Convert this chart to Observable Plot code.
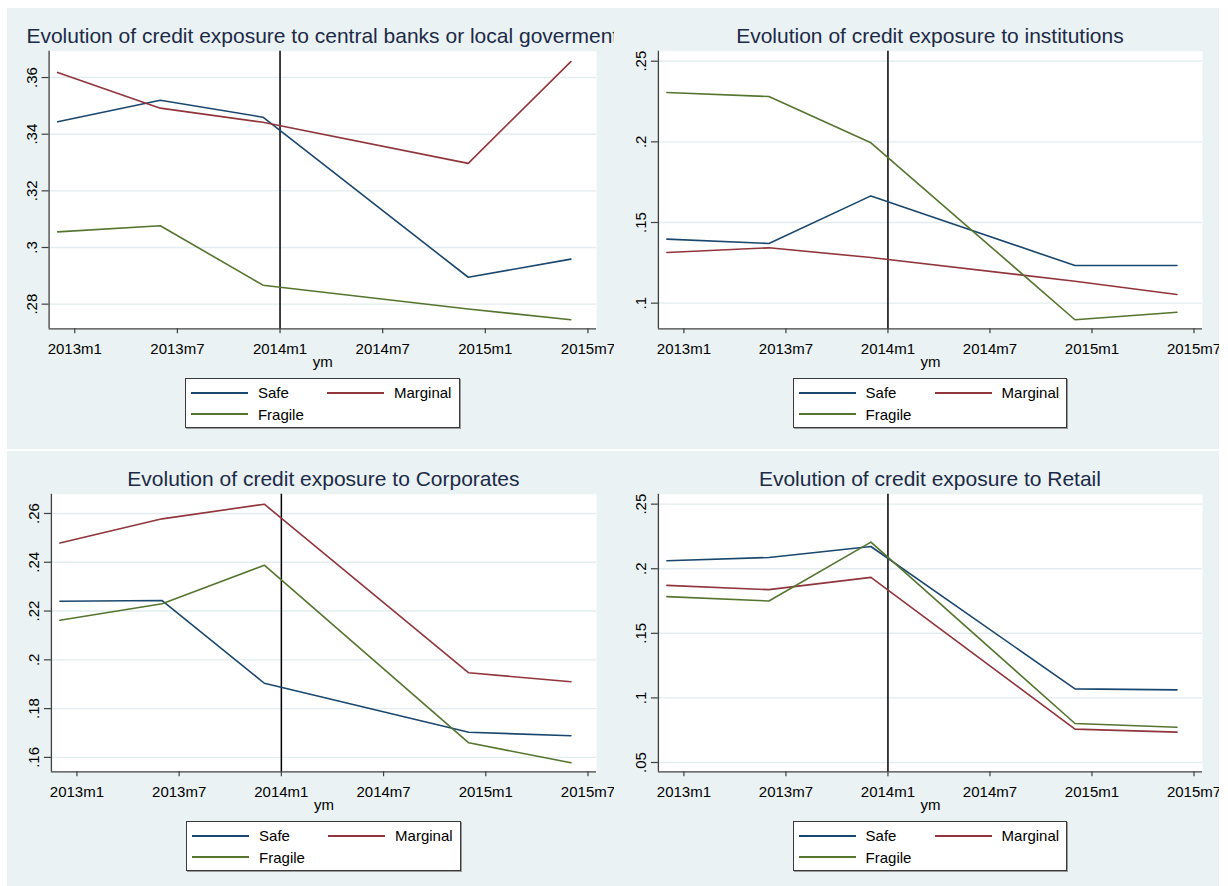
<!DOCTYPE html>
<html>
<head>
<meta charset="utf-8">
<script src="https://cdn.jsdelivr.net/npm/d3@7"></script>
<script src="https://cdn.jsdelivr.net/npm/@observablehq/plot@0.6"></script>
<style>
  html, body { margin: 0; padding: 0; background: #ffffff; }
  #root { position: relative; width: 1228px; height: 886px; overflow: hidden; font-family: "Liberation Sans", Arial, sans-serif; }
  .panel { position: absolute; background: #eaf2f3; overflow: hidden; }
  .panel svg { position: absolute; left: 0; top: 0; max-width: none; }
  .title { position: absolute; white-space: nowrap; font-size: 21px; line-height: 20px; color: #1c2a48; transform: translateX(-50%); }
  .legend { position: absolute; background: #ffffff; border: 1px solid #3a3a3a; box-sizing: border-box; box-shadow: 1px 1px 0 #9a9a9a; }
  .legend .sw { position: absolute; height: 1.8px; width: 57px; }
  .legend .lab { position: absolute; font-size: 15px; line-height: 15px; color: #000; white-space: nowrap; }
</style>
</head>
<body>
<div id="root"></div>
<script>
// ---------- data ----------
const series = ["Safe", "Marginal", "Fragile"];
const seriesColors = ["#1a476f", "#90353b", "#55752f"];
const months = ["2012m12", "2013m6", "2013m12", "2014m12", "2015m6"];
const xTickLabels = ["2013m1", "2013m7", "2014m1", "2014m7", "2015m1", "2015m7"];
const eventLine = ["2014m1"];
const xAxisLabel = "ym";

const titles = [
  "Evolution of credit exposure to central banks or local goverment",
  "Evolution of credit exposure to institutions",
  "Evolution of credit exposure to Corporates",
  "Evolution of credit exposure to Retail"
];

// central banks or local government
const cbSafe     = [0.3444, 0.3520, 0.3460, 0.2895, 0.2959];
const cbMarginal = [0.3618, 0.3492, 0.3442, 0.3297, 0.3656];
const cbFragile  = [0.3055, 0.3077, 0.2867, 0.2783, 0.2745];
const cbTicks = [0.28, 0.30, 0.32, 0.34, 0.36];

// institutions
const instSafe     = [0.1397, 0.1370, 0.1665, 0.1233, 0.1233];
const instMarginal = [0.1314, 0.1343, 0.1283, 0.1136, 0.1054];
const instFragile  = [0.2306, 0.2281, 0.1994, 0.0897, 0.0944];
const instTicks = [0.10, 0.15, 0.20, 0.25];

// corporates
const corpSafe     = [0.2240, 0.2243, 0.1904, 0.1703, 0.1689];
const corpMarginal = [0.2479, 0.2578, 0.2638, 0.1947, 0.1910];
const corpFragile  = [0.2162, 0.2230, 0.2388, 0.1660, 0.1578];
const corpTicks = [0.16, 0.18, 0.20, 0.22, 0.24, 0.26];

// retail
const retSafe     = [0.2062, 0.2087, 0.2172, 0.1070, 0.1062];
const retMarginal = [0.1871, 0.1838, 0.1933, 0.0758, 0.0735];
const retFragile  = [0.1784, 0.1750, 0.2206, 0.0802, 0.0773];
const retTicks = [0.05, 0.10, 0.15, 0.20, 0.25];

// ---------- helpers ----------
const monthIndex = s => { const m = /(\d+)m(\d+)/.exec(s); return (+m[1] - 2013) * 12 + (+m[2] - 1); };
const monthLabel = i => { const y = 2013 + Math.floor(i / 12); const mo = ((i % 12) + 12) % 12 + 1; return y + "m" + mo; };
const yFmt = v => { const s = String(+v.toFixed(4)); return s.replace(/^0\./, "."); };

const panels = [
  { left: 7,   top: 8,   w: 607, h: 441, mL: 41.6, mR: 18, mT: 42.7, mB: 120.7, yDomain: [0.2713, 0.3693], ticks: cbTicks,   vals: [cbSafe, cbMarginal, cbFragile] },
  { left: 614, top: 8,   w: 605, h: 441, mL: 43.9, mR: 17, mT: 42.7, mB: 120.7, yDomain: [0.0841, 0.2562], ticks: instTicks, vals: [instSafe, instMarginal, instFragile] },
  { left: 7,   top: 451, w: 607, h: 435, mL: 43.9, mR: 18, mT: 42.7, mB: 114.7, yDomain: [0.1541, 0.2679], ticks: corpTicks, vals: [corpSafe, corpMarginal, corpFragile] },
  { left: 614, top: 451, w: 605, h: 435, mL: 43.9, mR: 17, mT: 42.7, mB: 114.7, yDomain: [0.0428, 0.2577], ticks: retTicks,  vals: [retSafe, retMarginal, retFragile] }
];

const root = document.getElementById("root");
const xDomain = [-1.5, 30.5];
const xTicks = xTickLabels.map(monthIndex);

panels.forEach((p, k) => {
  const div = document.createElement("div");
  div.className = "panel";
  Object.assign(div.style, { left: p.left + "px", top: p.top + "px", width: p.w + "px", height: p.h + "px" });

  const rows = [];
  series.forEach((s, i) => p.vals[i].forEach((v, j) => rows.push({ month: monthIndex(months[j]), value: v, group: s })));

  const chart = Plot.plot({
    width: p.w, height: p.h,
    marginLeft: p.mL, marginRight: p.mR, marginTop: p.mT, marginBottom: p.mB,
    style: { background: "transparent", fontFamily: "'Liberation Sans', Arial, sans-serif", fontSize: "15px", color: "#000", overflow: "visible" },
    x: { domain: xDomain, label: null },
    y: { domain: p.yDomain, label: null },
    color: { domain: series, range: seriesColors },
    marks: [
      Plot.frame({ fill: "white", stroke: null }),
      Plot.gridY(p.ticks, { stroke: "#e3ecee", strokeOpacity: 1, strokeWidth: 1.4 }),
      Plot.ruleX([xDomain[0]], { stroke: "#404040", strokeWidth: 1.3 }),
      Plot.ruleY([p.yDomain[0]], { stroke: "#404040", strokeWidth: 1.3 }),
      Plot.axisX(xTicks, { tickFormat: monthLabel, tickSize: 5, tickPadding: 9.4, fontSize: 15, stroke: "#404040", strokeWidth: 1.2, label: null, fill: "#000" }),
      Plot.axisY(p.ticks, { tickFormat: yFmt, tickSize: 7, tickPadding: 5, tickRotate: -90, fontSize: 15, stroke: "#404040", strokeWidth: 1.2, label: null, fill: "#000" }),
      Plot.ruleX(eventLine.map(monthIndex), { stroke: "#000", strokeWidth: 1.5 }),
      Plot.line(rows, { x: "month", y: "value", z: "group", stroke: "group", strokeWidth: 1.6 }),
      Plot.text([xAxisLabel], { text: d => d, frameAnchor: "bottom", dy: 33.4, lineAnchor: "middle", fontSize: 15, fill: "#000" })
    ]
  });
  div.appendChild(chart);

  const plotCenter = (p.mL + (p.w - p.mR)) / 2;

  const t = document.createElement("div");
  t.className = "title";
  t.textContent = titles[k];
  t.style.left = plotCenter + "px";
  t.style.top = "18.0px";
  div.appendChild(t);

  const lg = document.createElement("div");
  lg.className = "legend";
  Object.assign(lg.style, { left: (plotCenter - 137.2) + "px", top: "370.3px", width: "274.5px", height: "49.4px" });
  const slots = [[6.2, 14.4], [142.2, 14.4], [6.2, 36]];
  series.forEach((s, i) => {
    const [sx, sy] = slots[i];
    const sw = document.createElement("div");
    sw.className = "sw";
    Object.assign(sw.style, { left: (sx - 1) + "px", top: (sy - 1.9) + "px", background: seriesColors[i] });
    lg.appendChild(sw);
    const lab = document.createElement("div");
    lab.className = "lab";
    lab.textContent = s;
    Object.assign(lab.style, { left: (sx + 66.6 - 1) + "px", top: (sy - 7.3 - 1) + "px" });
    lg.appendChild(lab);
  });
  div.appendChild(lg);

  root.appendChild(div);
});
</script>
</body>
</html>
